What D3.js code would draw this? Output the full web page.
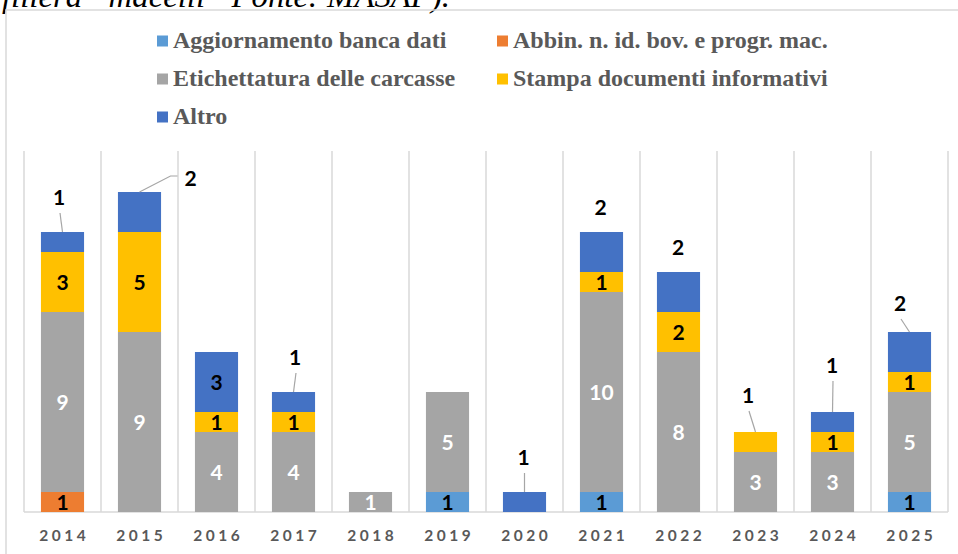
<!DOCTYPE html>
<html>
<head>
<meta charset="utf-8">
<script src="https://cdn.jsdelivr.net/npm/d3@7/dist/d3.min.js"></script>
<style>
  html, body { margin: 0; padding: 0; background: #fff; }
  svg { display: block; }
</style>
</head>
<body>
<svg id="chart" width="958" height="554"></svg>
<script>
// ---- data ----
const years = ["2014","2015","2016","2017","2018","2019","2020","2021","2022","2023","2024","2025"];
const seriesNames = [
  "Aggiornamento banca dati",
  "Abbin. n. id. bov. e progr. mac.",
  "Etichettatura delle carcasse",
  "Stampa documenti informativi",
  "Altro"
];
const aggiornamento = [0,0,0,0,0,1,0,1,0,0,0,1];
const abbinamento   = [1,0,0,0,0,0,0,0,0,0,0,0];
const etichettatura = [9,9,4,4,1,5,0,10,8,3,3,5];
const stampa        = [3,5,1,1,0,0,0,1,2,1,1,1];
const altro         = [1,2,3,1,0,0,1,2,2,0,1,2];
const yMax = 18;

// label layout for top segments placed outside the bar (annotation config)
const callouts = [
  {year:"2014", dx:-3.5, dy:-35, leader:true},
  {year:"2015", dx:51,   dy:-14, leader:"elbow"},
  {year:"2017", dx:1.5,  dy:-35, leader:true},
  {year:"2020", dx:-1,   dy:-35, leader:true},
  {year:"2021", dx:-1,   dy:-25, leader:false},
  {year:"2022", dx:-0.5, dy:-25, leader:false},
  {year:"2023", dx:-7.5, dy:-37, leader:true},
  {year:"2024", dx:-0.5, dy:-47, leader:true},
  {year:"2025", dx:-9.5, dy:-29, leader:true}
];

const colors = ["#5B9BD5","#ED7D31","#A5A5A5","#FFC000","#4472C4"];
const labelColors = ["#000","#000","#fff","#000","#000"];

const seriesValues = [aggiornamento, abbinamento, etichettatura, stampa, altro];
const table = years.map((y,i) => {
  const row = {year:y};
  seriesNames.forEach((s,k) => row[s] = seriesValues[k][i]);
  return row;
});

const svg = d3.select("#chart");

// heading fragment cut at top
svg.append("text")
  .attr("x", 2).attr("y", 7)
  .attr("font-family", "'Liberation Serif','Times New Roman',serif")
  .attr("font-style", "italic")
  .attr("font-size", 31)
  .attr("fill", "#000")
  .attr("textLength", 448)
  .attr("lengthAdjust", "spacingAndGlyphs")
  .text("filiera \u201Cmacelli\u201D Fonte: MASAF).");

// chart border
svg.append("rect")
  .attr("x", 6).attr("y", 10).attr("width", 980).attr("height", 600)
  .attr("fill", "none").attr("stroke", "#D9D9D9").attr("stroke-width", 1.5);

// scales
const x = d3.scaleBand().domain(years).range([24, 948]).paddingInner(0.44).paddingOuter(0.22);
const y = d3.scaleLinear().domain([0, yMax]).range([512, 152]);

// vertical category gridlines
const bounds = years.map(d => x(d) + x.bandwidth()/2 - x.step()/2);
bounds.push(x(years[years.length-1]) + x.bandwidth()/2 + x.step()/2);
svg.append("g").selectAll("line").data(bounds).join("line")
  .attr("x1", d => d).attr("x2", d => d)
  .attr("y1", y(yMax) - 1).attr("y2", y(0))
  .attr("stroke", "#D9D9D9").attr("stroke-width", 1.5);

// baseline
svg.append("line")
  .attr("x1", bounds[0]).attr("x2", bounds[bounds.length-1])
  .attr("y1", y(0)).attr("y2", y(0))
  .attr("stroke", "#D9D9D9").attr("stroke-width", 1.5);

// stack
const stack = d3.stack().keys(seriesNames)(table);

const layers = svg.append("g").selectAll("g").data(stack).join("g")
  .attr("fill", (d,i) => colors[i]);
layers.selectAll("rect").data(d => d).join("rect")
  .attr("x", d => x(d.data.year))
  .attr("width", x.bandwidth())
  .attr("y", d => y(d[1]))
  .attr("height", d => y(d[0]) - y(d[1]));

// find top segment per year
const topIdx = {};
years.forEach((yr,i) => {
  let t = -1;
  seriesValues.forEach((arr,k) => { if (arr[i] > 0) t = k; });
  topIdx[yr] = t;
});
const calloutMap = {};
callouts.forEach(c => calloutMap[c.year] = c);

const labelFont = "Lato, 'Open Sans', sans-serif";
const labelG = svg.append("g");
const leaderG = svg.append("g");

stack.forEach((layer, k) => {
  layer.forEach((seg, i) => {
    const v = seriesValues[k][i];
    if (!v) return;
    const yr = years[i];
    const cx = x(yr) + x.bandwidth()/2;
    const c = calloutMap[yr];
    if (c && topIdx[yr] === k) {
      const top = y(seg[1]);
      const lx = cx + c.dx, ly = top + c.dy;
      labelG.append("text")
        .attr("x", lx).attr("y", ly).attr("dy", "0.36em")
        .attr("text-anchor", "middle")
        .attr("font-family", labelFont).attr("font-weight", "bold")
        .attr("font-size", 21).attr("fill", "#000")
        .text(v);
      if (c.leader === true) {
        leaderG.append("line")
          .attr("x1", lx + 1).attr("y1", ly + 16)
          .attr("x2", cx).attr("y2", top)
          .attr("stroke", "#A6A6A6").attr("stroke-width", 1.2);
      } else if (c.leader === "elbow") {
        leaderG.append("polyline")
          .attr("points", [[cx, top], [lx - 20, ly - 2], [lx - 13, ly - 2]].map(p => p.join(",")).join(" "))
          .attr("fill", "none")
          .attr("stroke", "#A6A6A6").attr("stroke-width", 1.2);
      }
    } else {
      labelG.append("text")
        .attr("x", cx).attr("y", (y(seg[0]) + y(seg[1]))/2).attr("dy", "0.36em")
        .attr("text-anchor", "middle")
        .attr("font-family", labelFont).attr("font-weight", "bold")
        .attr("font-size", 21).attr("fill", labelColors[k])
        .text(v);
    }
  });
});

// x axis labels
const spacing = 3.5;
const xAxis = svg.append("g")
  .attr("transform", `translate(0, ${y(0)})`)
  .call(d3.axisBottom(x).tickSize(0).tickPadding(0));
xAxis.select(".domain").remove();
xAxis.selectAll("text")
  .attr("y", 29).attr("dy", 0)
  .attr("dx", spacing/2)
  .attr("font-family", labelFont).attr("font-weight", "bold")
  .attr("font-size", 15.5).attr("fill", "#595959")
  .style("letter-spacing", spacing + "px");

// legend
const legendItems = [
  {i:0, x:157, y:41}, {i:1, x:497, y:41},
  {i:2, x:157, y:79}, {i:3, x:497, y:79},
  {i:4, x:157, y:117}
];
const lg = svg.append("g");
legendItems.forEach(it => {
  lg.append("rect")
    .attr("x", it.x).attr("y", it.y - 5.5).attr("width", 11).attr("height", 11)
    .attr("fill", colors[it.i]);
  lg.append("text")
    .attr("x", it.x + 16).attr("y", it.y + 7)
    .attr("font-family", "'Liberation Serif','Times New Roman',serif")
    .attr("font-weight", "bold").attr("font-size", 24)
    .attr("fill", "#595959")
    .text(seriesNames[it.i]);
});
</script>
</body>
</html>
